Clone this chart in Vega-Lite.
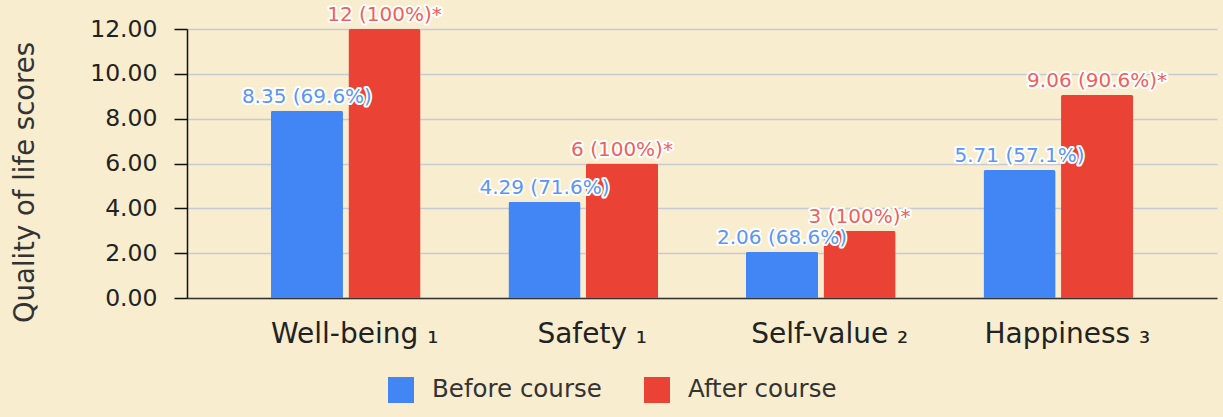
{
  "$schema": "https://vega.github.io/schema/vega-lite/v6.json",
  "width": 1030,
  "height": 269,
  "autosize": "none",
  "padding": {"left": 187, "top": 29, "right": 6, "bottom": 119},
  "background": "#f8edcf",
  "config": {
    "view": {"stroke": null},
    "font": "DejaVu Sans"
  },
  "data": {
    "values": [
      {"category": "Well-being ₁", "group": "Before course", "value": 8.35, "label": "8.35 (69.6%)"},
      {"category": "Well-being ₁", "group": "After course", "value": 12, "label": "12 (100%)*"},
      {"category": "Safety ₁", "group": "Before course", "value": 4.29, "label": "4.29 (71.6%)"},
      {"category": "Safety ₁", "group": "After course", "value": 6, "label": "6 (100%)*"},
      {"category": "Self-value ₂", "group": "Before course", "value": 2.06, "label": "2.06 (68.6%)"},
      {"category": "Self-value ₂", "group": "After course", "value": 3, "label": "3 (100%)*"},
      {"category": "Happiness ₃", "group": "Before course", "value": 5.71, "label": "5.71 (57.1%)"},
      {"category": "Happiness ₃", "group": "After course", "value": 9.06, "label": "9.06 (90.6%)*"}
    ]
  },
  "encoding": {
    "x": {
      "field": "category",
      "type": "nominal",
      "sort": null,
      "scale": {"paddingInner": 0.37, "paddingOuter": 0.353},
      "axis": {
        "title": null,
        "labelAngle": 0,
        "labelFont": "DejaVu Sans",
        "labelFontSize": 28,
        "labelColor": "#222222",
        "labelPadding": 22,
        "labelOffset": 9,
        "ticks": false,
        "domainColor": "#333333",
        "domainWidth": 1.5
      }
    },
    "xOffset": {
      "field": "group",
      "type": "nominal",
      "sort": ["Before course", "After course"],
      "scale": {"paddingInner": 0.07}
    },
    "y": {
      "field": "value",
      "type": "quantitative",
      "scale": {"domain": [0, 12], "nice": false}
    }
  },
  "layer": [
    {
      "mark": {"type": "bar", "cornerRadiusTopLeft": 2, "cornerRadiusTopRight": 2},
      "encoding": {
        "color": {
          "field": "group",
          "type": "nominal",
          "sort": ["Before course", "After course"],
          "scale": {"domain": ["Before course", "After course"], "range": ["#4285f4", "#ea4335"]},
          "legend": {
            "title": null,
            "orient": "none",
            "direction": "horizontal",
            "legendX": 201,
            "legendY": 348,
            "symbolType": "square",
            "symbolSize": 676,
            "symbolStrokeWidth": 0,
            "symbolOpacity": 1,
            "labelFont": "DejaVu Sans",
            "labelFontSize": 24.5,
            "labelColor": "#333333",
            "labelOffset": 18,
            "labelLimit": 400,
            "columnPadding": 42
          }
        },
        "y": {
          "field": "value",
          "type": "quantitative",
          "axis": {
            "title": "Quality of life scores",
            "titleFont": "DejaVu Sans",
            "titleFontSize": 27.5,
            "titleFontWeight": "normal",
            "titleColor": "#333333",
            "titleAngle": -90,
            "titleX": -162,
            "titleY": 153,
            "titleBaseline": "middle",
            "titleAlign": "center",
            "values": [0, 2, 4, 6, 8, 10, 12],
            "format": ".2f",
            "labelFont": "DejaVu Sans",
            "labelFontSize": 23.5,
            "labelColor": "#222222",
            "labelPadding": 17,
            "tickSize": 13,
            "tickColor": "#111111",
            "tickWidth": 1.5,
            "domainColor": "#111111",
            "domainWidth": 1.5,
            "grid": true,
            "gridColor": "#c6cad2",
            "gridWidth": 1.5
          }
        }
      }
    },
    {
      "mark": {"type": "text", "baseline": "alphabetic", "align": "center", "dy": -8, "fontSize": 20, "font": "DejaVu Sans", "stroke": "white", "strokeWidth": 4, "strokeJoin": "round", "fill": "white"},
      "encoding": {
        "text": {"field": "label"}
      }
    },
    {
      "mark": {"type": "text", "baseline": "alphabetic", "align": "center", "dy": -8, "fontSize": 20, "font": "DejaVu Sans"},
      "encoding": {
        "text": {"field": "label"},
        "color": {
          "condition": {"test": "datum.group === 'Before course'", "value": "#5b95f5"},
          "value": "#ee6259"
        }
      }
    }
  ]
}
